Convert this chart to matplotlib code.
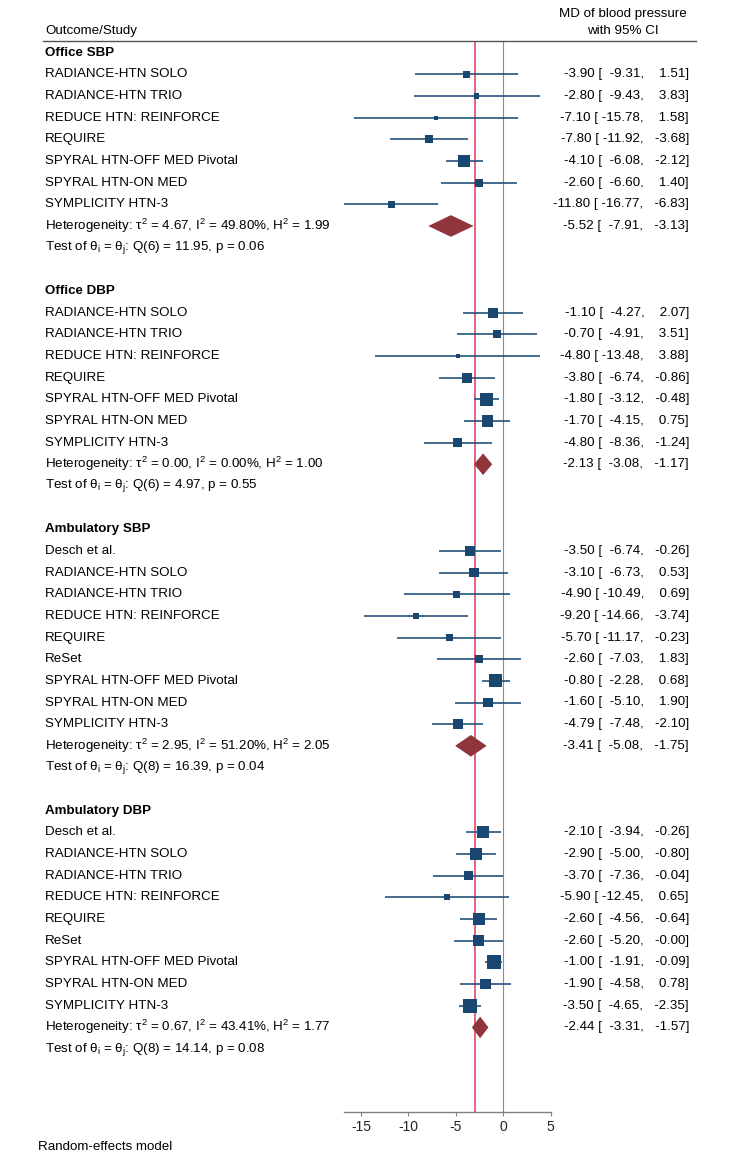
import matplotlib
matplotlib.use("Agg")
import matplotlib.pyplot as plt
from matplotlib.patches import Polygon

plt.rcParams['font.family'] = ['Liberation Sans', 'DejaVu Sans']
plt.rcParams['mathtext.fontset'] = 'custom'
plt.rcParams['mathtext.rm'] = 'Liberation Sans'
plt.rcParams['mathtext.it'] = 'Liberation Sans:italic'
plt.rcParams['mathtext.bf'] = 'Liberation Sans:bold'

# ---------------- data ----------------
section_titles = ["Office SBP", "Office DBP", "Ambulatory SBP", "Ambulatory DBP"]

studies_office = ["RADIANCE-HTN SOLO", "RADIANCE-HTN TRIO", "REDUCE HTN: REINFORCE", "REQUIRE",
                  "SPYRAL HTN-OFF MED Pivotal", "SPYRAL HTN-ON MED", "SYMPLICITY HTN-3"]
studies_amb = ["Desch et al.", "RADIANCE-HTN SOLO", "RADIANCE-HTN TRIO", "REDUCE HTN: REINFORCE",
               "REQUIRE", "ReSet", "SPYRAL HTN-OFF MED Pivotal", "SPYRAL HTN-ON MED", "SYMPLICITY HTN-3"]

osbp_est = [-3.90, -2.80, -7.10, -7.80, -4.10, -2.60, -11.80]
osbp_lo = [-9.31, -9.43, -15.78, -11.92, -6.08, -6.60, -16.77]
osbp_hi = [1.51, 3.83, 1.58, -3.68, -2.12, 1.40, -6.83]
osbp_w = [4.5, 2.8, 1.6, 6.4, 14.4, 6.4, 5.3]

odbp_est = [-1.10, -0.70, -4.80, -3.80, -1.80, -1.70, -4.80]
odbp_lo = [-4.27, -4.91, -13.48, -6.74, -3.12, -4.15, -8.36]
odbp_hi = [2.07, 3.51, 3.88, -0.86, -0.48, 0.75, -1.24]
odbp_w = [10.0, 6.4, 1.9, 10.0, 17.7, 12.8, 8.6]

asbp_est = [-3.50, -3.10, -4.90, -9.20, -5.70, -2.60, -0.80, -1.60, -4.79]
asbp_lo = [-6.74, -6.73, -10.49, -14.66, -11.17, -7.03, -2.28, -5.10, -7.48]
asbp_hi = [-0.26, 0.53, 0.69, -3.74, -0.23, 1.83, 0.68, 1.90, -2.10]
asbp_w = [8.6, 8.6, 4.5, 4.5, 4.5, 6.4, 17.7, 8.6, 11.4]

adbp_est = [-2.10, -2.90, -3.70, -5.90, -2.60, -2.60, -1.00, -1.90, -3.50]
adbp_lo = [-3.94, -5.00, -7.36, -12.45, -4.56, -5.20, -1.91, -4.58, -4.65]
adbp_hi = [-0.26, -0.80, -0.04, 0.65, -0.64, -0.0, -0.09, 0.78, -2.35]
adbp_w = [14.4, 14.4, 7.6, 3.6, 14.4, 11.4, 19.6, 11.4, 19.6]

pooled_est = [-5.52, -2.13, -3.41, -2.44]
pooled_lo = [-7.91, -3.08, -5.08, -3.31]
pooled_hi = [-3.13, -1.17, -1.75, -1.57]
tau2 = [4.67, 0.00, 2.95, 0.67]
i2 = [49.80, 0.00, 51.20, 43.41]
h2 = [1.99, 1.00, 2.05, 1.77]
q_df = [6, 6, 8, 8]
q_stat = [11.95, 4.97, 16.39, 14.14]
q_p = [0.06, 0.55, 0.04, 0.08]

overall_line = -3.0
x_ticks = [-15, -10, -5, 0, 5]

sections = [
    (studies_office, osbp_est, osbp_lo, osbp_hi, osbp_w),
    (studies_office, odbp_est, odbp_lo, odbp_hi, odbp_w),
    (studies_amb, asbp_est, asbp_lo, asbp_hi, asbp_w),
    (studies_amb, adbp_est, adbp_lo, adbp_hi, adbp_w),
]

# ---------------- layout ----------------
W, H = 744, 1159
px_zero, px_per_unit = 503.3, 9.49
y0_px, row_px = 52.7, 21.66
axis_px = 1111.7


def dx(px):
    return (px - px_zero) / px_per_unit


fig = plt.figure(figsize=(W / 100, H / 100), dpi=100)
ax = fig.add_axes([0, 1 - axis_px / H, 1, axis_px / H])
ax.set_xlim(dx(0), dx(W))
ax.set_ylim((axis_px - y0_px) / row_px, -y0_px / row_px)
ax.set_facecolor('none')

sq_color = '#1a476f'
ci_color = '#24527d'
dia_color = '#90353b'
fs = 9.6

x_label = dx(45)
x_val = dx(689)

header_y = -1.0
line_y = (40.7 - y0_px) / row_px
ax.text(x_label, header_y, "Outcome/Study", fontsize=fs, va='center', ha='left')
ax.text(dx(623), (14 - y0_px) / row_px, "MD of blood pressure", fontsize=fs, va='center', ha='center')
ax.text(dx(623), header_y, "with 95% CI", fontsize=fs, va='center', ha='center')
ax.plot([dx(43), dx(696)], [line_y, line_y], color='#555555', lw=1.0, clip_on=False)

bottom = ax.get_ylim()[0]
ax.vlines(0, line_y, bottom, color='#8c8c8c', lw=0.8, zorder=1)
ax.vlines(overall_line, line_y, bottom, color='#e3486e', lw=1.2, zorder=1)


def fmt(e, l, h):
    return f"{e:.2f} [{l:7.2f}, {h:7.2f}]"


idx = 0
all_lo = []
for s, (names, est, lo, hi, w) in enumerate(sections):
    ax.text(x_label, idx, section_titles[s], fontsize=fs, fontweight='bold', va='center', ha='left')
    ys = []
    for k, name in enumerate(names):
        y = idx + 1 + k
        ys.append(y)
        ax.text(x_label, y, name, fontsize=fs, va='center', ha='left')
        ax.text(x_val, y, fmt(est[k], lo[k], hi[k]), fontsize=fs, va='center', ha='right')
    ax.hlines(ys, lo, hi, color=ci_color, lw=1.2, zorder=2)
    ax.scatter(est, ys, s=[5.184 * v for v in w], marker='s', color=sq_color, linewidths=0, zorder=3)
    all_lo.extend(lo)
    yh = idx + 1 + len(names)
    ax.text(x_label, yh,
            f"Heterogeneity: τ$^2$ = {tau2[s]:.2f}, I$^2$ = {i2[s]:.2f}%, H$^2$ = {h2[s]:.2f}",
            fontsize=fs, va='center', ha='left')
    ax.text(x_val, yh, fmt(pooled_est[s], pooled_lo[s], pooled_hi[s]),
            fontsize=fs, va='center', ha='right')
    dia = Polygon([(pooled_lo[s], yh), (pooled_est[s], yh - 0.5), (pooled_hi[s], yh),
                   (pooled_est[s], yh + 0.5)], closed=True, facecolor=dia_color, edgecolor='none', zorder=3)
    ax.add_patch(dia)
    yt = yh + 1
    ax.text(x_label, yt,
            f"Test of θ$_\\mathrm{{i}}$ = θ$_\\mathrm{{j}}$: Q({q_df[s]}) = {q_stat[s]:.2f}, p = {q_p[s]:.2f}",
            fontsize=fs, va='center', ha='left')
    idx = yt + 2

# axis
for sp in ['left', 'right', 'top']:
    ax.spines[sp].set_visible(False)
ax.spines['bottom'].set_color('#808080')
ax.spines['bottom'].set_linewidth(1.0)
ax.spines['bottom'].set_bounds(min(all_lo), max(x_ticks))
ax.set_xticks(x_ticks)
ax.set_xticklabels([str(t) for t in x_ticks])
ax.tick_params(axis='x', length=3, width=0.8, color='#808080', labelsize=10, pad=3, labelcolor='#222222')
ax.set_yticks([])

fig.text(38 / W, 1 - 1146.7 / H, "Random-effects model", fontsize=fs, va='center', ha='left')

fig.savefig("out.png", dpi=100)
